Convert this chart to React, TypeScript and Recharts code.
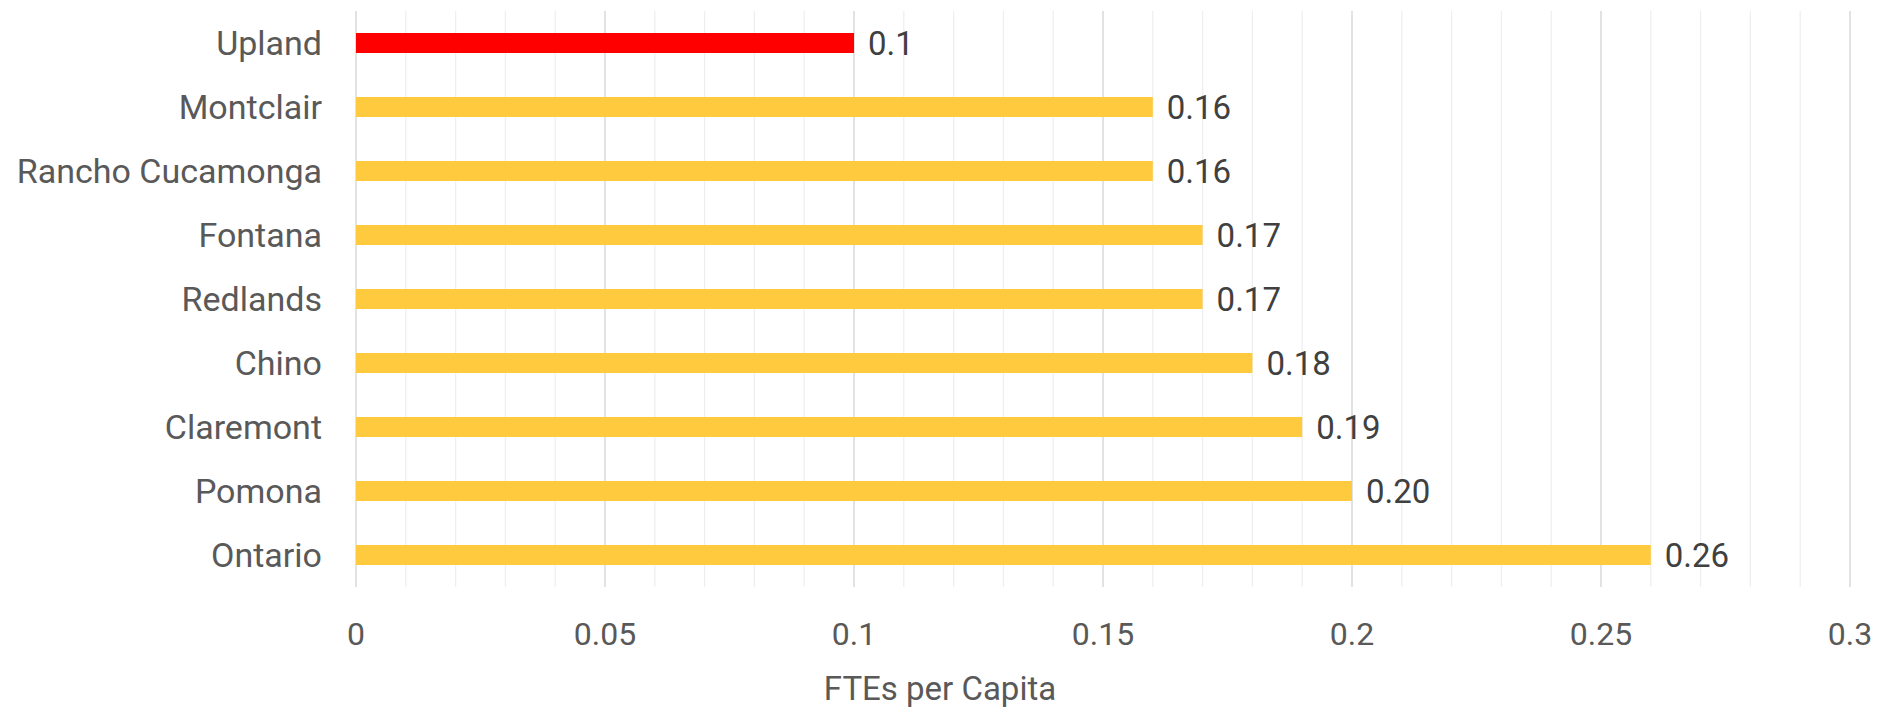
import React from 'react';
import { BarChart, Bar, XAxis, YAxis, CartesianGrid, Cell, LabelList, Label } from 'recharts';

const cities = ['Upland', 'Montclair', 'Rancho Cucamonga', 'Fontana', 'Redlands', 'Chino', 'Claremont', 'Pomona', 'Ontario'];
const ftesPerCapita = [0.1, 0.16, 0.16, 0.17, 0.17, 0.18, 0.19, 0.2, 0.26];
const valueLabels = ['0.1', '0.16', '0.16', '0.17', '0.17', '0.18', '0.19', '0.20', '0.26'];
const majorTicks = [0, 0.05, 0.1, 0.15, 0.2, 0.25, 0.3];
const minorTicks = [0.01, 0.02, 0.03, 0.04, 0.06, 0.07, 0.08, 0.09, 0.11, 0.12, 0.13, 0.14, 0.16, 0.17, 0.18, 0.19, 0.21, 0.22, 0.23, 0.24, 0.26, 0.27, 0.28, 0.29];
const highlightCity = 'Upland';

const data = cities.map((name, i) => ({ name, value: ftesPerCapita[i], label: valueLabels[i] }));

const font = 'Roboto, sans-serif';

export default function App() {
  return (
    <div style={{ width: 1878, height: 706, fontFamily: font }}>
      <BarChart
        width={1878}
        height={706}
        data={data}
        layout="vertical"
        margin={{ top: 3, right: 36, bottom: 8, left: 0 }}
      >
        <CartesianGrid horizontal={false} verticalValues={minorTicks} stroke="#efefef" strokeWidth={1.3} />
        <CartesianGrid horizontal={false} verticalValues={majorTicks} stroke="#d9d9d9" strokeWidth={1.5} />
        <XAxis
          type="number"
          domain={[0, 0.3]}
          ticks={majorTicks}
          axisLine={false}
          tickLine={false}
          tickSize={0}
          tickMargin={35}
          height={119}
          tick={{ fill: '#595959', fontSize: 32, fontFamily: font }}
        >
          <Label
            value="FTEs per Capita"
            position="insideBottom"
            offset={6}
            dx={-163}
            style={{ fill: '#595959', fontSize: 33, fontFamily: font }}
          />
        </XAxis>
        <YAxis
          type="category"
          dataKey="name"
          width={348}
          axisLine={false}
          tickLine={false}
          tickSize={0}
          tickMargin={34}
          interval={0}
          tick={{ fill: '#595959', fontSize: 34, fontFamily: font }}
        />
        <Bar dataKey="value" barSize={20} isAnimationActive={false}>
          {data.map((d) => (
            <Cell key={d.name} fill={d.name === highlightCity ? '#ff0000' : '#ffca3d'} />
          ))}
          <LabelList
            dataKey="label"
            position="right"
            offset={14}
            style={{ fill: '#404040', fontSize: 33, fontFamily: font }}
          />
        </Bar>
      </BarChart>
    </div>
  );
}
